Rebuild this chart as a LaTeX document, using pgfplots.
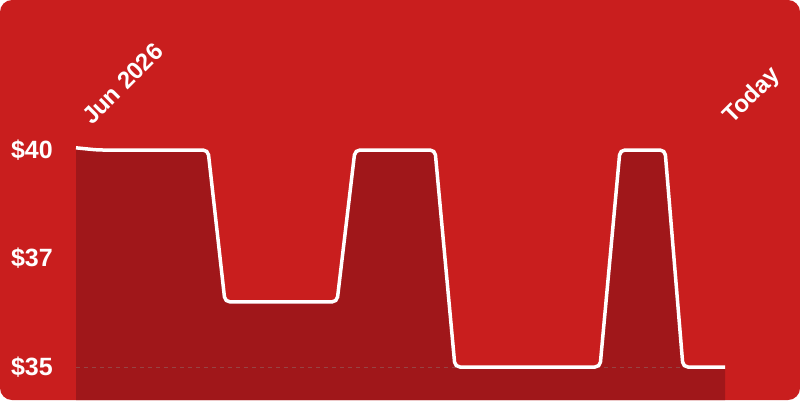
\documentclass[border=0pt]{standalone}
\usepackage{pgfplots}
\pgfplotsset{compat=1.18}
\usepackage{fontspec}
\setmainfont{Liberation Sans}
\definecolor{bg}{RGB}{201,30,30}
\definecolor{area}{RGB}{160,23,26}
\definecolor{dashcol}{RGB}{150,68,68}
\begin{document}
\begin{tikzpicture}[x=1pt,y=1pt]
\useasboundingbox (0,0) rectangle (800,400);
\fill[white] (0,0) rectangle (800,400);
\fill[bg, rounded corners=12pt] (0,0) rectangle (800,400);
\begin{axis}[
  at={(76pt,0pt)}, anchor=south west,
  scale only axis, width=649pt, height=400pt,
  xmin=76, xmax=725, ymin=34.240, ymax=43.456,
  axis line style={draw=none},
  xtick=\empty,
  ytick={35,37.5,40},
  yticklabels={\$35,\$37,\$40},
  major tick length=0pt,
  yticklabel style={anchor=east, inner sep=0pt, xshift=-23pt, font=\fontsize{25}{30}\selectfont\bfseries, text=white},
  clip=false,
]
\addplot[draw=none, fill=area] coordinates {
(76,40.05) (98,40) (208,40) (225,36.5) (337,36.5) (355,40) (435,40) (455,35) (600,35) (620,40) (665,40) (683,35) (725,35)
} |- (axis cs:76,34.240) -- cycle;
\addplot[dashcol, line width=1pt, dash pattern=on 4pt off 4pt] coordinates {(76,35) (725,35)};
\addplot[white, line width=3.5pt, rounded corners=5pt, line cap=butt] coordinates {
(76,40.05) (98,40) (208,40) (225,36.5) (337,36.5) (355,40) (435,40) (455,35) (600,35) (620,40) (665,40) (683,35) (725,35)
};
\end{axis}
\node[anchor=base west, rotate=45, inner sep=0pt, text=white, font=\fontsize{24}{28}\selectfont\bfseries] at (92,274) {Jun 2026};
\node[anchor=base west, rotate=45, inner sep=0pt, text=white, font=\fontsize{24}{28}\selectfont\bfseries] at (732,275) {Today};
\end{tikzpicture}
\end{document}
